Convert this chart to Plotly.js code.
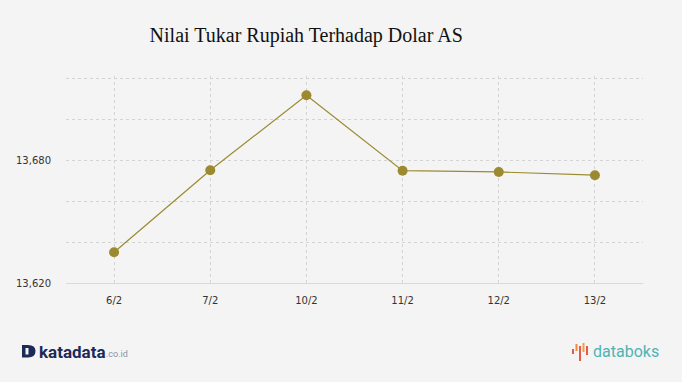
<!DOCTYPE html>
<html>
<head>
<meta charset="utf-8">
<script src="https://cdn.plot.ly/plotly-3.0.1.min.js"></script>
<style>html,body{margin:0;padding:0;background:#f4f4f4;}#chart{width:682px;height:382px;}</style>
</head>
<body>
<div id="chart"></div>
<script>
var categories = ["6/2", "7/2", "10/2", "11/2", "12/2", "13/2"];
var rates = [13635, 13675, 13711.6, 13674.8, 13674.2, 13672.6];
var yTickVals = [13620, 13640, 13660, 13680, 13700, 13720];
var yTickText = ["13,620", "", "", "13,680", "", ""];

var olive = "#9c8a30";
var trace = {
  x: categories, y: rates, type: "scatter", mode: "lines+markers",
  line: {color: olive, width: 1.2},
  marker: {color: olive, size: 10},
  hoverinfo: "x+y"
};

// helpers to convert pixel positions to paper coords for logo decoration
var L = 66, T = 76, W = 577, H = 207;
function px(v) { return (v - L) / W; }
function py(v) { return (T + H - v) / H; }
function bar(x0, x1, y0, y1, c) {
  return {type: "rect", xref: "paper", yref: "paper", x0: px(x0), x1: px(x1), y0: py(y1), y1: py(y0), fillcolor: c, line: {width: 0}, layer: "above"};
}
var dPath = "M " + px(22) + "," + py(345) + " L " + px(28) + "," + py(345) +
  " Q " + px(35.5) + "," + py(345) + " " + px(35.5) + "," + py(351) +
  " Q " + px(35.5) + "," + py(357.5) + " " + px(28) + "," + py(357.5) +
  " L " + px(22) + "," + py(357.5) + " Z";

var layout = {
  width: 682, height: 382,
  paper_bgcolor: "#f4f4f4", plot_bgcolor: "#f4f4f4",
  margin: {l: L, r: 39, t: T, b: 99},
  showlegend: false,
  title: {text: "Nilai Tukar Rupiah Terhadap Dolar AS", x: 0.449, xanchor: "center", y: 0.908, yanchor: "middle",
          font: {family: "Liberation Serif, Times New Roman, serif", size: 20, color: "#111"}},
  xaxis: {type: "category", range: [-0.5, 5.5], showgrid: true, gridcolor: "#d3d3d3", griddash: "3px,3px", gridwidth: 1,
          showline: true, linecolor: "#dadada", linewidth: 1, zeroline: false, ticks: "",
          tickfont: {family: "DejaVu Sans, Verdana, sans-serif", size: 10, color: "#333"}, ticklabelstandoff: 8, fixedrange: true},
  yaxis: {range: [13620, 13721], tickvals: yTickVals, ticktext: yTickText, showgrid: true, gridcolor: "#d3d3d3", griddash: "3px,3px", gridwidth: 1,
          zeroline: false, showline: false, ticks: "", ticklabelstandoff: 14,
          tickfont: {family: "DejaVu Sans, Verdana, sans-serif", size: 10, color: "#333"}, fixedrange: true},
  shapes: [
    {type: "path", xref: "paper", yref: "paper", path: dPath, fillcolor: "#1c2a5a", line: {width: 0}, layer: "above"},
    {type: "rect", xref: "paper", yref: "paper", x0: px(25.5), x1: px(28.5), y0: py(354.5), y1: py(348), fillcolor: "#f4f4f4", line: {width: 0}, layer: "above"},
    bar(572, 574, 349, 354, "#e8594a"),
    bar(575.5, 577.5, 344, 351, "#f08a3c"),
    bar(579, 581, 346, 361, "#e8594a"),
    bar(582.5, 584.5, 343, 352, "#f2a03c"),
    bar(586, 588, 346, 355, "#e8594a")
  ],
  annotations: [
    {text: "<b>katadata</b>", xref: "paper", yref: "paper", x: px(37), y: py(351.5), xanchor: "left", yanchor: "middle", showarrow: false,
     font: {family: "Roboto, Open Sans, sans-serif", size: 17, color: "#1c2a5a"}},
    {text: ".co.id", xref: "paper", yref: "paper", x: px(104), y: py(354), xanchor: "left", yanchor: "middle", showarrow: false,
     font: {family: "Roboto, Open Sans, sans-serif", size: 9, color: "#8a93a8"}},
    {text: "databoks", xref: "paper", yref: "paper", x: px(591), y: py(351.5), xanchor: "left", yanchor: "middle", showarrow: false,
     font: {family: "Roboto, Open Sans, sans-serif", size: 16, color: "#4fb3b3"}}
  ]
};

Plotly.newPlot("chart", [trace], layout, {displayModeBar: false});
</script>
</body>
</html>
